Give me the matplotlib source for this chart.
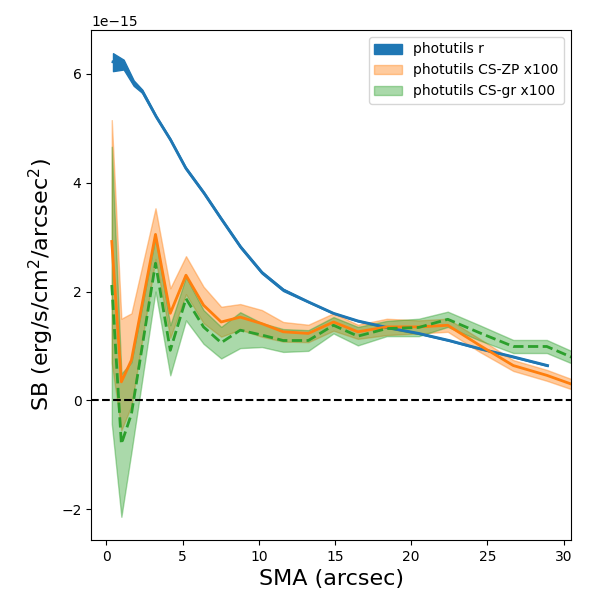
import matplotlib
matplotlib.use("Agg")
import numpy as np
import matplotlib.pyplot as plt

# surface brightness profiles, values in units of 1e-15
sma_r = [0.43, 1.13, 1.79, 2.35, 3.27, 4.2, 5.2, 6.4, 7.5, 8.8, 10.2, 11.6,
         13.25, 14.9, 16.5, 18.4, 20.5, 22.5, 24.5, 26.7, 28.95]
sb_r = [6.22, 6.17, 5.83, 5.68, 5.21, 4.79, 4.27, 3.81, 3.35, 2.82, 2.35, 2.03,
        1.81, 1.60, 1.46, 1.34, 1.23, 1.10, 0.95, 0.80, 0.64]
sb_r_hi = [6.38, 6.26, 5.88, 5.71, 5.23, 4.81, 4.29, 3.83, 3.37, 2.84, 2.37, 2.05,
           1.82, 1.61, 1.47, 1.35, 1.24, 1.11, 0.96, 0.81, 0.65]
sb_r_lo = [6.05, 6.08, 5.78, 5.65, 5.19, 4.77, 4.25, 3.79, 3.33, 2.80, 2.33, 2.01,
           1.80, 1.59, 1.45, 1.33, 1.22, 1.09, 0.94, 0.79, 0.63]

sma_cs = [0.35, 0.98, 1.64, 3.22, 4.19, 5.22, 6.37, 7.53, 8.78, 10.2, 11.6,
          13.25, 14.9, 16.5, 18.4, 20.5, 22.4, 24.5, 26.7, 28.9, 31.3]
sb_zp = [2.92, 0.34, 0.74, 3.05, 1.60, 2.30, 1.75, 1.44, 1.53, 1.41, 1.26,
         1.23, 1.44, 1.26, 1.35, 1.35, 1.38, 1.01, 0.64, 0.46, 0.22]
sb_zp_hi = [5.15, 1.50, 1.60, 3.53, 2.06, 2.65, 2.09, 1.72, 1.77, 1.66, 1.44,
            1.39, 1.60, 1.39, 1.50, 1.47, 1.50, 1.13, 0.74, 0.56, 0.31]
sb_zp_lo = [0.69, -0.55, -0.10, 2.60, 1.15, 1.95, 1.42, 1.17, 1.30, 1.17, 1.08,
            1.07, 1.28, 1.13, 1.20, 1.23, 1.26, 0.89, 0.54, 0.36, 0.13]

sb_gr = [2.12, -0.80, -0.25, 2.52, 0.92, 1.87, 1.35, 1.06, 1.29, 1.20, 1.10,
         1.10, 1.38, 1.18, 1.32, 1.34, 1.49, 1.24, 0.99, 0.99, 0.70]
sb_gr_hi = [4.66, 0.49, 0.70, 3.00, 1.38, 2.27, 1.66, 1.35, 1.62, 1.42, 1.31,
            1.29, 1.53, 1.35, 1.46, 1.50, 1.63, 1.38, 1.11, 1.11, 0.81]
sb_gr_lo = [-0.43, -2.14, -0.95, 2.00, 0.46, 1.47, 1.04, 0.77, 0.96, 0.98, 0.89,
            0.91, 1.23, 1.01, 1.18, 1.18, 1.35, 1.10, 0.87, 0.87, 0.59]

scale = 1e-15


def sc(v):
    return np.array(v) * scale


fig, ax = plt.subplots(figsize=(6, 6), dpi=100)
fig.subplots_adjust(left=0.152, right=0.952, bottom=0.1, top=0.95)

ax.plot(sma_r, sc(sb_r), color="C0", lw=2)
ax.fill_between(sma_r, sc(sb_r_lo), sc(sb_r_hi), color="C0", label="photutils r")

ax.plot(sma_cs, sc(sb_zp), color="C1", lw=2)
ax.fill_between(sma_cs, sc(sb_zp_lo), sc(sb_zp_hi), color="C1", alpha=0.4,
                label="photutils CS-ZP x100")

ax.plot(sma_cs, sc(sb_gr), color="C2", lw=2, ls="--")
ax.fill_between(sma_cs, sc(sb_gr_lo), sc(sb_gr_hi), color="C2", alpha=0.4,
                label="photutils CS-gr x100")

ax.axhline(0, color="k", ls="--", lw=1.5)

ax.set_xlim(-1, 30.5)
ax.set_xlabel("SMA (arcsec)", fontsize=16)
ax.set_ylabel(r"SB (erg/s/cm$^2$/arcsec$^2$)", fontsize=16)
ax.legend(loc="upper right")

plt.savefig("out.png")
